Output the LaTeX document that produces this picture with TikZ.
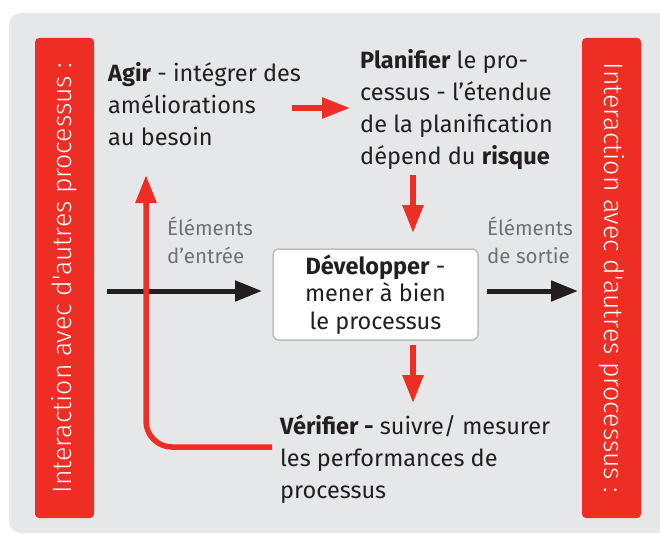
\documentclass[tikz,border=0pt]{standalone}
\usepackage{fontspec}
\setmainfont{Fira Sans}
\newfontfamily\barfont{Fira Sans Light}
\usetikzlibrary{arrows.meta}
\definecolor{pdcared}{RGB}{238,46,36}
\definecolor{panelgray}{RGB}{230,231,232}
\definecolor{inkdark}{RGB}{35,31,32}
\definecolor{labelgray}{RGB}{112,113,115}
\definecolor{boxedge}{RGB}{189,190,192}
\begin{document}
\begin{tikzpicture}[x=1pt,y=-1pt,
  sidebar/.style={fill=pdcared, rounded corners=4pt, minimum width=480pt,
    minimum height=59pt, inner sep=0pt, text=white,
    font=\barfont\fontsize{26.6}{30}\selectfont},
  steptext/.style={inner sep=0pt, anchor=base west, align=left, text=inkdark,
    font=\fontsize{23.5}{31.75}\selectfont},
  flowlabel/.style={inner sep=0pt, anchor=base west, align=left, text=labelgray,
    font=\fontsize{20.5}{28}\selectfont},
  devbox/.style={draw=boxedge, line width=1.5pt, fill=white, rounded corners=6pt,
    minimum width=205pt, minimum height=91pt, inner sep=0pt, align=center,
    text=inkdark, font=\fontsize{23.5}{27.5}\selectfont},
  redflow/.style={draw=pdcared, line width=5.5pt,
    -{Triangle[length=28pt,width=20pt]}},
  ioflow/.style={draw=inkdark, line width=5pt,
    -{Triangle[length=27pt,width=20pt]}}
]
\useasboundingbox (0,0) rectangle (660,535);
% panel background
\fill[panelgray, rounded corners=12pt] (9,13) rectangle (690,533);

% side bars
\node[sidebar, rotate=90] (lbar) at (64.5,278)
  {Interaction avec d'autres processus :};
\node[sidebar, rotate=-90] (rbar) at (611.5,278)
  {Interaction avec d'autres processus :};

% PDCA steps (anchored on the baseline of their last line)
\node[steptext] (agir) at (108,145)
  {\textbf{Agir} - intégrer des\\améliorations\\au besoin};
\node[steptext] (plan) at (360,164)
  {\textbf{Planifier} le pro-\\cessus - l’étendue\\de la planification\\dépend du \textbf{risque}};
\node[devbox] (dev) at (375.5,294.5)
  {\textbf{Développer} -\\mener à bien\\le processus};
\node[steptext] (verif) at (280,498)
  {\textbf{Vérifier -} suivre/ mesurer\\les performances de\\processus};

% input / output labels
\node[flowlabel] (inlab) at (167,263) {Éléments\\d’entrée};
\node[flowlabel] (outlab) at (487,263) {Éléments\\de sortie};

% connector end points
\coordinate (inA) at (107,291);
\coordinate (inB) at (262,291);
\coordinate (outA) at (487,291);
\coordinate (outB) at (578,291);
\coordinate (actA) at (292,108);
\coordinate (actB) at (350,108);
\coordinate (planA) at (413,175);
\coordinate (planB) at (413,233);
\coordinate (devA) at (413,345);
\coordinate (devB) at (413,403);
\coordinate (chkA) at (272,447);
\coordinate (chkB) at (146,175);

% input and output flow
\draw[ioflow] (inA) -- (inB);
\draw[ioflow] (outA) -- (outB);

% PDCA cycle
\draw[redflow] (actA) -- (actB);
\draw[redflow] (planA) -- (planB);
\draw[redflow] (devA) -- (devB);
\draw[redflow, rounded corners=26pt] (chkA) -| (chkB);
\end{tikzpicture}
\end{document}
